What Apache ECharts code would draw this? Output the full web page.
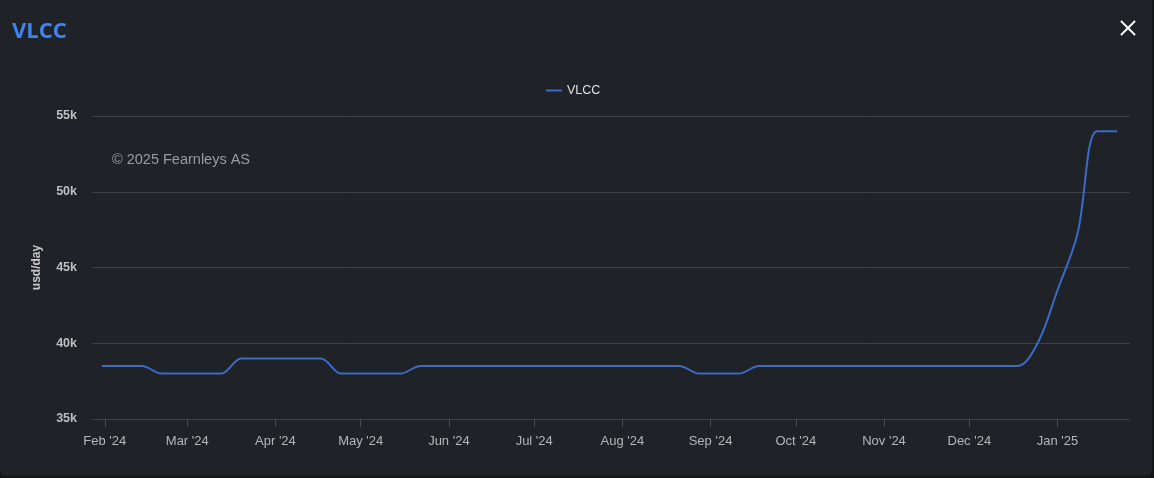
<!DOCTYPE html>
<html>
<head>
<meta charset="utf-8">
<script src="https://cdn.jsdelivr.net/npm/echarts@6/dist/echarts.min.js"></script>
<style>
  html, body { margin: 0; padding: 0; width: 1154px; height: 478px; background: #131517; overflow: hidden; }
  #panel { position: absolute; left: 0; top: 0; width: 1152px; height: 476px; background: #1f2327; border-radius: 0 0 6px 6px; }
  #chart { position: absolute; left: 0; top: 0; width: 1154px; height: 478px; }
</style>
</head>
<body>
<div id="panel"></div>
<div id="chart"></div>
<script>
// Weekly observation dates
const dates = [
  '2024-01-31','2024-02-07','2024-02-14','2024-02-21','2024-02-28',
  '2024-03-06','2024-03-13','2024-03-20','2024-03-27',
  '2024-04-03','2024-04-10','2024-04-17','2024-04-24',
  '2024-05-01','2024-05-08','2024-05-15','2024-05-22','2024-05-29',
  '2024-06-05','2024-06-12','2024-06-19','2024-06-26',
  '2024-07-03','2024-07-10','2024-07-17','2024-07-24','2024-07-31',
  '2024-08-07','2024-08-14','2024-08-21','2024-08-28',
  '2024-09-04','2024-09-11','2024-09-18','2024-09-25',
  '2024-10-02','2024-10-09','2024-10-16','2024-10-23','2024-10-30',
  '2024-11-06','2024-11-13','2024-11-20','2024-11-27',
  '2024-12-04','2024-12-11','2024-12-18','2024-12-25',
  '2025-01-01','2025-01-08','2025-01-15','2025-01-22'
];
// VLCC rate, usd/day
const vlcc = [
  38500, 38500, 38500, 38000, 38000,
  38000, 38000, 39000, 39000,
  39000, 39000, 39000, 38000,
  38000, 38000, 38000, 38500, 38500,
  38500, 38500, 38500, 38500,
  38500, 38500, 38500, 38500, 38500,
  38500, 38500, 38500, 38000,
  38000, 38000, 38500, 38500,
  38500, 38500, 38500, 38500, 38500,
  38500, 38500, 38500, 38500,
  38500, 38500, 38500, 40000,
  43500, 47200, 54000, 54000
];
const monthNames = ['Jan','Feb','Mar','Apr','May','Jun','Jul','Aug','Sep','Oct','Nov','Dec'];
const yTicks = [35000, 40000, 45000, 50000, 55000];

const chart = echarts.init(document.getElementById('chart'), null, { renderer: 'canvas' });
const DAY = 86400000;
const option = {
  backgroundColor: 'transparent',
  animation: false,
  title: {
    text: 'VLCC',
    left: 7, top: 16,
    textStyle: { color: '#3f83ee', fontSize: 22, fontWeight: 'bold', fontFamily: 'Open Sans' }
  },
  legend: {
    top: 79, left: 541,
    icon: 'rect', itemWidth: 16, itemHeight: 2, itemGap: 5,
    textStyle: { color: '#e0e0e0', fontSize: 12.5, fontFamily: 'Liberation Sans' },
    data: ['VLCC']
  },
  graphic: [
    { type: 'text', left: 112, top: 152,
      style: { text: '© 2025 Fearnleys AS', fill: '#9a9c9e', font: '14.5px "Liberation Sans"' } },
    { type: 'line', shape: { x1: 1121, y1: 21, x2: 1135, y2: 35 }, style: { stroke: '#ffffff', lineWidth: 2 } },
    { type: 'line', shape: { x1: 1135, y1: 21, x2: 1121, y2: 35 }, style: { stroke: '#ffffff', lineWidth: 2 } }
  ],
  grid: { left: 92, right: 24, top: 116, bottom: 59, containLabel: false },
  xAxis: {
    type: 'time',
    min: new Date('2024-01-27T12:00:00').getTime(),
    max: new Date('2025-01-26T12:00:00').getTime(),
    minInterval: 28 * DAY, maxInterval: 31 * DAY,
    splitNumber: 12,
    axisLine: { show: true, lineStyle: { color: '#3c4146' } },
    axisTick: { show: true, length: 8, lineStyle: { color: '#4a4f55' } },
    splitLine: { show: false },
    axisLabel: {
      color: '#b4b6b8', fontSize: 13, fontFamily: 'Liberation Sans', margin: 16,
      showMinLabel: false, showMaxLabel: false,
      formatter: function (v) {
        const d = new Date(v);
        return monthNames[d.getMonth()] + " '" + String(d.getFullYear()).slice(2);
      }
    }
  },
  yAxis: {
    type: 'value',
    min: yTicks[0], max: yTicks[yTicks.length - 1], interval: 5000,
    name: 'usd/day', nameLocation: 'middle', nameGap: 49, nameRotate: 90,
    nameTextStyle: { color: '#c8c8c8', fontSize: 12, fontWeight: 'bold', fontFamily: 'Liberation Sans' },
    axisLine: { show: false }, axisTick: { show: false },
    splitLine: { lineStyle: { color: '#3c4146', width: 1 } },
    axisLabel: {
      color: '#bdbfc1', fontSize: 12.5, fontWeight: 'bold', fontFamily: 'Liberation Sans', margin: 15,
      formatter: function (v) { return (v / 1000) + 'k'; }
    }
  },
  series: [{
    name: 'VLCC',
    type: 'line',
    data: dates.map(function (d, i) { return [d, vlcc[i]]; }),
    smooth: 0.35,
    showSymbol: false,
    lineStyle: { color: '#3b6bc8', width: 2 },
    itemStyle: { color: '#3b6bc8' }
  }]
};
chart.setOption(option);
</script>
</body>
</html>
